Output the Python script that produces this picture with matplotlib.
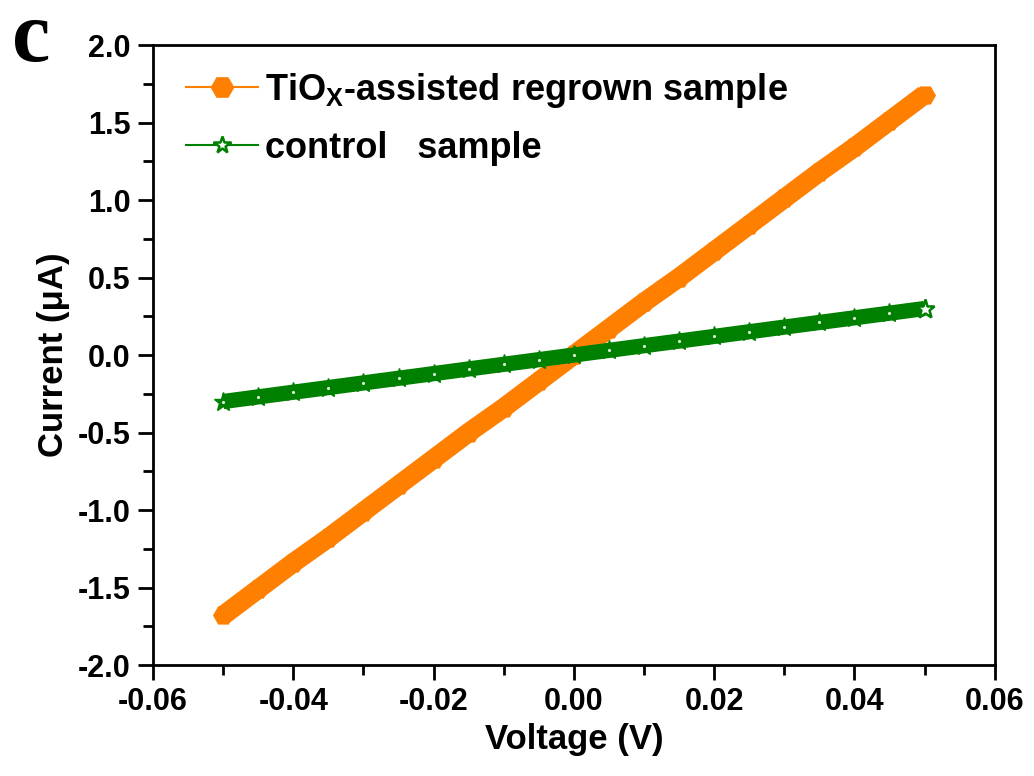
import matplotlib
matplotlib.use("Agg")
import matplotlib.pyplot as plt
from matplotlib.ticker import MultipleLocator, FormatStrFormatter

plt.rcParams['font.family'] = ['Liberation Sans', 'DejaVu Sans']
plt.rcParams['font.weight'] = 'bold'
plt.rcParams['mathtext.fontset'] = 'custom'
plt.rcParams['mathtext.rm'] = 'Liberation Sans:bold'

voltage = [-0.050, -0.045, -0.040, -0.035, -0.030, -0.025, -0.020, -0.015, -0.010, -0.005,
           0.000, 0.005, 0.010, 0.015, 0.020, 0.025, 0.030, 0.035, 0.040, 0.045, 0.050]
current_tiox = [-1.68, -1.51, -1.34, -1.18, -1.01, -0.84, -0.67, -0.50, -0.34, -0.17,
                0.00, 0.17, 0.34, 0.50, 0.67, 0.84, 1.01, 1.18, 1.34, 1.51, 1.68]
current_control = [-0.30, -0.27, -0.24, -0.21, -0.18, -0.15, -0.12, -0.09, -0.06, -0.03,
                   0.00, 0.03, 0.06, 0.09, 0.12, 0.15, 0.18, 0.21, 0.24, 0.27, 0.30]

orange = '#FF7F00'
green = '#008000'

fig = plt.figure(figsize=(10.34, 7.76), dpi=100)
ax = fig.add_axes([0.148, 0.143, 0.814, 0.799])

# thick bands (densely packed markers in the original)
ax.plot(voltage, current_tiox, color=orange, lw=14, solid_capstyle='butt', zorder=2)
ax.plot(voltage, current_tiox, ls='none', marker='H', ms=14, color=orange, zorder=2)
ax.plot(voltage, current_control, color=green, lw=11, solid_capstyle='butt', zorder=3)
ax.plot(voltage, current_control, ls='none', marker='*', ms=14, color=green,
        markerfacecolor=green, markeredgewidth=1.0, zorder=3)
ax.plot(voltage, current_control, ls='none', marker='.', ms=2.5, color='#d8efd8',
        zorder=4)
ax.plot(voltage[-1:], current_control[-1:], ls='none', marker='*', ms=14, color=green,
        markerfacecolor='white', markeredgewidth=1.8, zorder=4)

# legend proxies
h1, = ax.plot([], [], color=orange, lw=1.5, marker='H', ms=16)
h2, = ax.plot([], [], color=green, lw=1.5, marker='*', ms=13,
              markerfacecolor='white', markeredgewidth=1.8)
leg = ax.legend([h1, h2], [r'TiO$_\mathrm{X}$-assisted regrown sample', 'control   sample'],
                loc='upper left', bbox_to_anchor=(0.0, 1.011), frameon=False,
                prop={'size': 26, 'weight': 'bold'}, handlelength=2.0,
                handletextpad=0.2, labelspacing=0.58)

ax.set_xlim(-0.06, 0.06)
ax.set_ylim(-2.0, 2.0)
ax.xaxis.set_major_locator(MultipleLocator(0.02))
ax.xaxis.set_minor_locator(MultipleLocator(0.01))
ax.yaxis.set_major_locator(MultipleLocator(0.5))
ax.yaxis.set_minor_locator(MultipleLocator(0.25))
ax.xaxis.set_major_formatter(FormatStrFormatter('%.2f'))
ax.yaxis.set_major_formatter(FormatStrFormatter('%.1f'))

ax.tick_params(which='major', direction='out', length=11, width=2, labelsize=22, pad=5)
ax.tick_params(which='minor', direction='out', length=7, width=2)
for s in ax.spines.values():
    s.set_linewidth(2)

ax.set_xlabel('Voltage (V)', fontsize=25, fontweight='bold', labelpad=4)
ax.set_ylabel('Current (\u03bcA)', fontsize=25, fontweight='bold', labelpad=6)

fig.text(0.012, 0.922, 'c', fontsize=62, fontweight='bold',
         family=['Liberation Serif', 'DejaVu Serif'])

fig.savefig('out.png', dpi=100)
